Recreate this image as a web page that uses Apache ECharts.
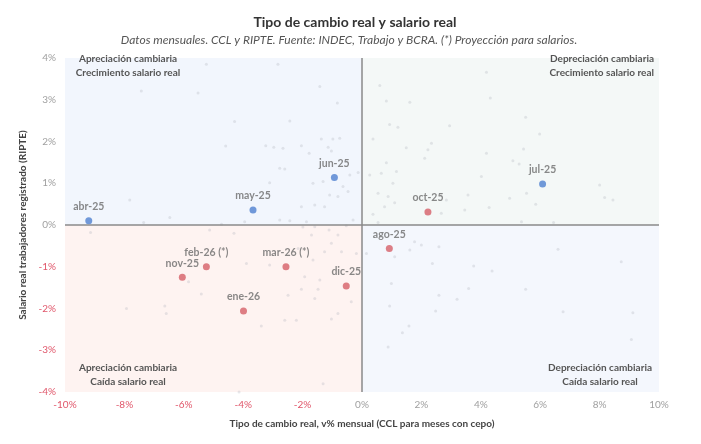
<!DOCTYPE html>
<html>
<head>
<meta charset="utf-8">
<script src="https://cdn.jsdelivr.net/npm/echarts@6/dist/echarts.min.js"></script>
<style>
  html, body { margin: 0; padding: 0; background: #fff; }
  #chart { width: 701px; height: 444px; }
</style>
</head>
<body>
<div id="chart"></div>
<script>
// meses recientes: abr-25 a jul-25 (azul)
var mesesA = ["abr-25", "may-25", "jun-25", "jul-25"];
var tcrA = [-9.20, -3.67, -0.93, 6.08];
var salA = [0.10, 0.36, 1.14, 0.98];

// ago-25 a mar-26 (rojo)
var mesesB = ["ago-25", "oct-25", "nov-25", "dic-25", "ene-26", "feb-26 (*)", "mar-26 (*)"];
var tcrB = [0.92, 2.22, -6.05, -0.53, -3.99, -5.24, -2.56];
var salB = [-0.56, 0.31, -1.25, -1.46, -2.06, -1.00, -1.00];

// historico (puntos tenues)
var histX = [-5.24, -7.43, -5.52, -4.29, -4.59, -7.82, -7.35, -6.47, -4.73, -3.95, -9.14, -5.13, -4.31,
  -2.83, -1.42, -0.83, -2.43, -1.37, -0.98, -0.75, -3.24, -2.97, -2.66, -2.04, -1.14, -1.03, -1.78,
  -2.77, -2.60, -3.11, -1.65, -1.31, -0.41, -0.13, -0.64, -0.47, -1.09, -0.81, -1.59, -1.26, -2.04,
  -2.77, -2.43, -1.87, -0.30, 0.60, 0.82, 1.61, 0.93, 1.21, 2.95, 0.37, 1.49, 2.34, 2.22, 2.11, 0.82,
  0.26, 0.65, 1.16, 1.04, 0.54, 0.88, 1.10, 0.76, 0.37, 2.67, 2.84, 3.57, 4.02, 4.19, 4.32, 4.19, 3.46,
  0.54, 5.51, 5.98, 5.44, 5.08, 5.29, 5.54, 5.85, 4.97, 4.28, 8.00, 8.17, 8.45, 5.37, 6.45, 6.60, 3.76,
  4.38, 8.73, 3.59, 5.51, 3.20, 6.77, 9.12, 9.07, 1.61, 1.77, 2.00, 2.59, 2.37, 0.99, 2.59, 0.93, 2.48,
  1.58, 1.36, 0.15, 1.10, 0.88, -1.99, -1.59, -1.11, -0.81, -0.53, -1.70, -1.03, -0.69, -0.19, -2.15,
  -1.65, -1.26, -3.11, -1.93, -1.42, -2.04, -1.48, -2.49, -1.59, -0.36, -0.81, -1.03, -3.39, -2.60,
  -2.21, -1.31, -5.84, -5.41, -7.93, -6.64, -6.59, -3.89, -4.14];
var histY = [3.85, 3.21, 3.16, 2.48, 1.89, 0.60, 0.06, 0.18, 0.02, 0.08, -0.18, -0.12, -0.20,
  3.85, 3.32, 2.92, 2.49, 2.06, 2.06, 2.08, 1.90, 1.86, 1.84, 1.90, 1.86, 1.77, 1.72,
  1.36, 1.34, 1.01, 1.00, 1.04, 1.20, 1.26, 0.92, 0.80, 0.72, 0.68, 0.48, 0.44, 0.44,
  0.12, 0.10, 0.08, 0.12, 3.34, 2.97, 2.94, 2.41, 2.34, 2.38, 2.06, 1.85, 1.96, 1.80, 1.60, 1.49,
  1.20, 1.24, 1.28, 1.00, 0.76, 0.68, 0.53, 0.44, 0.26, 0.28, 0.60, 0.72, 1.16, 3.66, 3.04, 1.72, 0.36,
  0.06, 2.58, 2.18, 1.82, 1.54, 1.46, 0.76, 0.50, 0.64, 0.42, 0.96, 0.66, 0.60, 0.08, 0.06, -0.58, -0.98,
  -1.10, -0.88, -1.52, -1.54, -1.78, -2.08, -2.10, -2.74, -0.60, -0.40, -0.48, -0.52, -0.92, -1.40, -1.68, -1.94, -2.06,
  -2.42, -2.58, -0.68, -0.76, -2.92, -0.05, -0.04, -0.12, -0.24, -0.02, -0.24, -0.44, -0.64, -0.68, -0.56,
  -0.84, -0.64, -0.96, -1.24, -1.32, -1.54, -1.54, -1.68, -1.76, -1.84, -2.12, -2.25, -2.42, -2.28,
  -2.28, -3.80, -1.36, -1.65, -2.00, -1.94, -2.12, -0.92, -4.00];

var xTicks = { min: -10, max: 10, step: 2 };
var yTicks = { min: -4, max: 4, step: 1 };

function pares(xs, ys, names) {
    var out = [];
    for (var i = 0; i < xs.length; i++) {
        out.push(names ? { value: [xs[i], ys[i]], name: names[i] } : [xs[i], ys[i]]);
    }
    return out;
}

var chart = echarts.init(document.getElementById("chart"));
var fuente = "Lato, 'Open Sans', sans-serif";
var negColor = "#e0566a";
var posColor = "#a0a0a0";

var etiquetaPunto = {
    show: true,
    position: "top",
    distance: 5,
    formatter: "{b}",
    color: "#6b6b6b",
    fontFamily: fuente,
    fontSize: 10.5,
    fontWeight: "bold"
};

function cuadrante(x, y, align, l1, l2) {
    return {
        type: "text",
        x: x, y: y,
        z: 100,
        style: {
            text: l1 + "\n" + l2,
            textAlign: align,
            fill: "#555",
            font: "bold 10px " + fuente,
            lineHeight: 14
        }
    };
}

var option = {
    backgroundColor: "#fff",
    animation: false,
    title: [
        {
            text: "Tipo de cambio real y salario real",
            left: 350, top: 10, textAlign: "center",
            textStyle: { fontFamily: fuente, fontSize: 14, fontWeight: "bold", color: "#333" }
        },
        {
            text: "Datos mensuales. CCL y RIPTE. Fuente: INDEC, Trabajo y BCRA. (*) Proyección para salarios.",
            left: 344, top: 29, textAlign: "center",
            textStyle: { fontFamily: fuente, fontSize: 12, fontStyle: "italic", fontWeight: "normal", color: "#555" }
        }
    ],
    grid: { left: 65, right: 42, top: 58, bottom: 52 },
    xAxis: {
        type: "value",
        min: xTicks.min, max: xTicks.max, interval: xTicks.step,
        name: "Tipo de cambio real, v% mensual (CCL para meses con cepo)",
        nameLocation: "middle",
        nameGap: 27,
        nameTextStyle: { fontFamily: fuente, fontSize: 10, fontWeight: "bold", color: "#444" },
        axisLine: { show: false },
        axisTick: { show: false },
        splitLine: { show: false },
        axisLabel: {
            margin: 8,
            fontFamily: fuente, fontSize: 10,
            formatter: "{value}%",
            color: function (v) { return Number(v) < 0 ? negColor : posColor; }
        }
    },
    yAxis: {
        type: "value",
        min: yTicks.min, max: yTicks.max, interval: yTicks.step,
        name: "Salario real trabajadores registrado (RIPTE)",
        nameLocation: "middle",
        nameGap: 27,
        nameTextStyle: { fontFamily: fuente, fontSize: 10, fontWeight: "bold", color: "#444" },
        axisLine: { show: false },
        axisTick: { show: false },
        splitLine: { show: false },
        axisLabel: {
            margin: 9,
            fontFamily: fuente, fontSize: 10,
            formatter: "{value}%",
            color: function (v) { return Number(v) < 0 ? negColor : posColor; }
        }
    },
    graphic: {
        elements: [
            cuadrante(128, 52, "center", "Apreciación cambiaria", "Crecimiento salario real"),
            cuadrante(654, 52, "right", "Depreciación cambiaria", "Crecimiento salario real"),
            cuadrante(128, 361, "center", "Apreciación cambiaria", "Caída salario real"),
            cuadrante(600, 361, "center", "Depreciación cambiaria", "Caída salario real")
        ]
    },
    series: [
        {
            name: "Histórico",
            type: "scatter",
            symbolSize: 3,
            silent: true,
            itemStyle: { color: "rgba(175,180,190,0.38)" },
            data: pares(histX, histY),
            z: 2,
            markArea: {
                silent: true,
                data: [
                    [{ coord: [-10, 0], itemStyle: { color: "#f2f6fd", opacity: 1 } }, { coord: [0, 4] }],
                    [{ coord: [0, 0], itemStyle: { color: "#f4f8f7", opacity: 1 } }, { coord: [10, 4] }],
                    [{ coord: [-10, -4], itemStyle: { color: "#fef3f1", opacity: 1 } }, { coord: [0, 0] }],
                    [{ coord: [0, -4], itemStyle: { color: "#f4f7fd", opacity: 1 } }, { coord: [10, 0] }]
                ]
            },
            markLine: {
                silent: true,
                symbol: "none",
                label: { show: false },
                lineStyle: { color: "#8a8a8a", width: 1.5, type: "solid" },
                data: [{ xAxis: 0 }, { yAxis: 0 }]
            }
        },
        {
            name: "abr-jul 25",
            type: "scatter",
            symbolSize: 7,
            itemStyle: { color: "#4f81d0" },
            label: etiquetaPunto,
            data: pares(tcrA, salA, mesesA),
            z: 5
        },
        {
            name: "ago 25 - mar 26",
            type: "scatter",
            symbolSize: 7,
            itemStyle: { color: "#d65f68" },
            label: etiquetaPunto,
            data: pares(tcrB, salB, mesesB),
            z: 5
        }
    ]
};
chart.setOption(option);
</script>
</body>
</html>
